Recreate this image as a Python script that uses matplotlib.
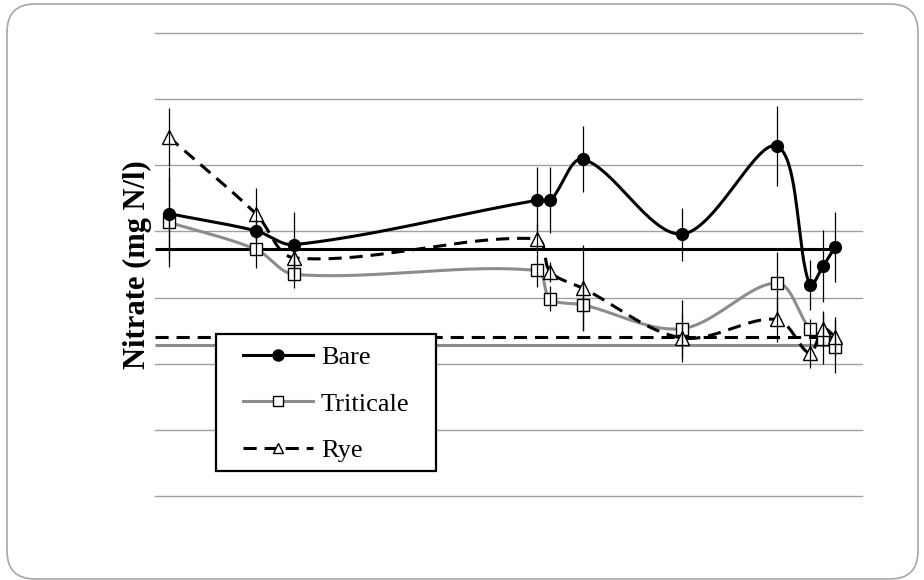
import matplotlib
matplotlib.use("Agg")
import matplotlib.pyplot as plt
import numpy as np
from matplotlib.lines import Line2D
from matplotlib.patches import FancyBboxPatch, Rectangle
from matplotlib.transforms import IdentityTransform

# sampling days and nitrate values (mg N/l)
days = [7, 52, 72, 197, 204, 221, 272, 321, 338, 345, 351]

bare = [42.7, 40.1, 38.0, 44.7, 44.7, 50.9, 39.6, 52.9, 31.9, 34.8, 37.6]
bare_err = [7.0, 1.5, 4.9, 5.0, 5.0, 5.0, 4.0, 6.0, 3.8, 5.4, 5.3]

triticale = [41.4, 37.3, 33.5, 34.1, 29.8, 28.9, 25.3, 32.2, 25.3, 23.8, 22.6]
triticale_err = [6.8, 2.9, 2.1, 2.5, 1.9, 3.8, 4.3, 4.7, 1.5, 3.8, 4.0]

rye = [54.3, 42.7, 36.0, 38.9, 33.9, 31.4, 23.9, 26.7, 21.6, 25.3, 24.1]
rye_err = [4.4, 3.8, 1.5, 2.3, 1.5, 6.5, 3.6, 3.4, 2.2, 2.7, 3.0]

# horizontal reference levels
bare_ref = 37.4
rye_ref = 24.1
triticale_ref = 22.8

SERIF = "Liberation Serif"
GRAY = "#8c8c8c"
DASH = (0, (4.3, 2.6))


def smooth(ax, xs, ys, n=40):
    # Excel-like smoothed line: cubic bezier segments built in pixel space
    pts = ax.transData.transform(np.column_stack([xs, ys]))
    m = len(pts)
    out = [pts[0]]
    t = np.linspace(0, 1, n)[1:, None]
    for i in range(m - 1):
        p0 = pts[max(i - 1, 0)]
        p1 = pts[i]
        p2 = pts[i + 1]
        p3 = pts[min(i + 2, m - 1)]
        d01 = np.hypot(*(p1 - p0))
        d12 = np.hypot(*(p2 - p1))
        d23 = np.hypot(*(p3 - p2))
        c1 = p1 + (p2 - p0) * d12 / (d01 + d12) / 3
        c2 = p2 - (p3 - p1) * d12 / (d12 + d23) / 3
        seg = (1 - t) ** 3 * p1 + 3 * (1 - t) ** 2 * t * c1 + 3 * (1 - t) * t ** 2 * c2 + t ** 3 * p2
        out.extend(seg)
    res = ax.transData.inverted().transform(np.array(out))
    return res[:, 0], res[:, 1]


fig = plt.figure(figsize=(9.24, 5.8), dpi=100)

# rounded outer frame
frame = FancyBboxPatch((7, 1), 911, 575, boxstyle="round,pad=0,rounding_size=28",
                       transform=IdentityTransform(), facecolor="white",
                       edgecolor="#a6a6a6", linewidth=1.2, zorder=-5)
fig.patches.append(frame)

ax = fig.add_axes([155 / 924, 84 / 580, 707 / 924, 463 / 580])
ax.set_facecolor("none")
ax.set_xlim(0, 365)
ax.set_ylim(0, 70)
ax.set_yticks(np.arange(0, 71, 10))
ax.set_xticks([])
ax.tick_params(axis="y", length=0, labelleft=False)
for s in ax.spines.values():
    s.set_visible(False)
ax.grid(axis="y", color="#a0a0a0", linewidth=1.0)
ax.set_axisbelow(True)
for gl in ax.yaxis.get_gridlines():
    gl.set_clip_on(False)

# reference levels
ax.hlines(bare_ref, 0, days[-1], color="black", lw=2.2, zorder=2)
ax.hlines(rye_ref, 0, days[-1], color="black", lw=2.2, linestyles=[DASH], zorder=2)
ax.hlines(triticale_ref, 0, days[-1], color=GRAY, lw=2.2, zorder=2)

# smoothed lines
sx, sy = smooth(ax, days, triticale)
ax.plot(sx, sy, color=GRAY, lw=2.2, zorder=3)
sx, sy = smooth(ax, days, rye)
ax.plot(sx, sy, color="black", lw=2.2, linestyle=DASH, zorder=3)
sx, sy = smooth(ax, days, bare)
ax.plot(sx, sy, color="black", lw=2.2, zorder=3)

# markers
ax.plot(days, triticale, linestyle="none", marker="s", ms=8.5, mfc="white", mec="black", mew=1, zorder=4)
ax.plot(days, rye, linestyle="none", marker="^", ms=10, mfc="white", mec="black", mew=1, zorder=4)
ax.plot(days, bare, linestyle="none", marker="o", ms=8.5, color="black", zorder=4)

# error bars
for vals, err in [(bare, bare_err), (triticale, triticale_err), (rye, rye_err)]:
    ax.errorbar(days, vals, yerr=err, fmt="none", ecolor="black", elinewidth=0.9, capsize=0, zorder=5)

# legend box drawn separately so its padding matches
box = Rectangle(((216 - 155) / 707, (496 - 471) / 463), 220 / 707, 137 / 463,
                transform=ax.transAxes, facecolor="white", edgecolor="black",
                linewidth=1.6, clip_on=False, zorder=9)
ax.add_patch(box)

handles = [
    Line2D([], [], color="black", lw=2.2, marker="o", ms=8),
    Line2D([], [], color=GRAY, lw=2.2, marker="s", ms=6.5, mfc="white", mec="black", mew=1),
    Line2D([], [], color="black", lw=2.2, linestyle=DASH, marker="^", ms=7.5, mfc="white", mec="black", mew=1),
]
leg = ax.legend(handles, ["Bare", "Triticale", "Rye"], loc="upper left",
                bbox_to_anchor=((243 - 155) / 707, (496 - 346) / 463), borderaxespad=0,
                prop={"family": SERIF, "size": 19}, frameon=False,
                handlelength=2.65, handletextpad=0.3, borderpad=0, labelspacing=0.86)
leg.set_zorder(10)

fig.text(137 / 924, 1 - 265 / 580, "Nitrate (mg N/l)", rotation=90, ha="center", va="center",
         fontsize=22, fontweight="bold", family=SERIF)

fig.savefig("out.png", dpi=100)
